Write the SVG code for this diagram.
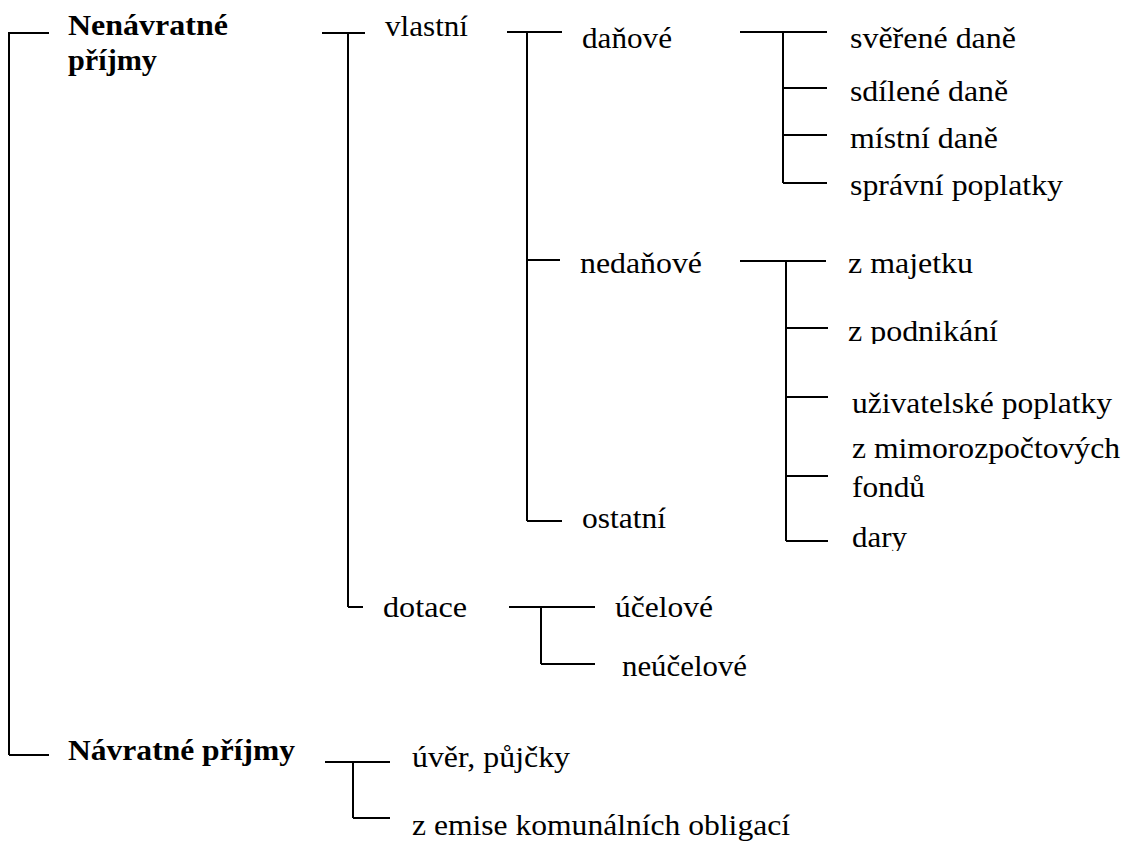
<svg xmlns="http://www.w3.org/2000/svg" width="1127" height="843" viewBox="0 0 1127 843">
  <style>
    text { font-family: 'Liberation Serif', 'Times New Roman', serif; font-size: 30px; fill: #000; }
    .b { font-weight: bold; }
    .c line { stroke: #000; stroke-width: 2; fill: none; }
  </style>
  <defs>
    <clipPath id="clipPrijmy"><rect x="0" y="0" width="300" height="80"/></clipPath>
    <clipPath id="clipSpravni"><rect x="800" y="150" width="327" height="53"/></clipPath>
    <clipPath id="clipPodnikani"><rect x="800" y="300" width="327" height="44"/></clipPath>
    <clipPath id="clipDary"><rect x="800" y="515" width="327" height="36"/></clipPath>
  </defs>
  <rect width="1127" height="843" fill="#fff"/>

  <g id="connectors" class="c">
    <line x1="8" y1="33" x2="49" y2="33"/>
    <line x1="9" y1="33" x2="9" y2="755"/>
    <line x1="9" y1="755" x2="49" y2="755"/>
    <line x1="322" y1="33" x2="365" y2="33"/>
    <line x1="348" y1="33" x2="348" y2="607"/>
    <line x1="348" y1="607" x2="363" y2="607"/>
    <line x1="507" y1="32" x2="562" y2="32"/>
    <line x1="527" y1="32" x2="527" y2="521"/>
    <line x1="527" y1="260" x2="560" y2="260"/>
    <line x1="527" y1="521" x2="562" y2="521"/>
    <line x1="740" y1="32" x2="827" y2="32"/>
    <line x1="783" y1="32" x2="783" y2="183"/>
    <line x1="783" y1="88" x2="827" y2="88"/>
    <line x1="783" y1="135" x2="827" y2="135"/>
    <line x1="783" y1="183" x2="827" y2="183"/>
    <line x1="740" y1="261" x2="826" y2="261"/>
    <line x1="786" y1="261" x2="786" y2="541"/>
    <line x1="786" y1="328" x2="828" y2="328"/>
    <line x1="786" y1="397" x2="828" y2="397"/>
    <line x1="786" y1="476" x2="828" y2="476"/>
    <line x1="786" y1="541" x2="828" y2="541"/>
    <line x1="509" y1="607" x2="595" y2="607"/>
    <line x1="541" y1="607" x2="541" y2="664"/>
    <line x1="541" y1="664" x2="595" y2="664"/>
    <line x1="325" y1="762" x2="390" y2="762"/>
    <line x1="353" y1="762" x2="353" y2="818"/>
    <line x1="353" y1="818" x2="390" y2="818"/>
  </g>

  <g id="node-nenavratne">
    <text class="b" x="68" y="35" textLength="160" lengthAdjust="spacingAndGlyphs">Nenávratné</text>
    <text class="b" x="68" y="70" textLength="89" lengthAdjust="spacingAndGlyphs" clip-path="url(#clipPrijmy)">příjmy</text>
  </g>
  <g id="node-navratne">
    <text class="b" x="68" y="760" textLength="227" lengthAdjust="spacingAndGlyphs">Návratné příjmy</text>
  </g>
  <g id="node-vlastni"><text x="385" y="36" textLength="83" lengthAdjust="spacingAndGlyphs">vlastní</text></g>
  <g id="node-danove"><text x="582" y="48" textLength="90" lengthAdjust="spacingAndGlyphs">daňové</text></g>
  <g id="node-sverene"><text x="850" y="48" textLength="166" lengthAdjust="spacingAndGlyphs">svěřené daně</text></g>
  <g id="node-sdilene"><text x="850" y="101" textLength="158" lengthAdjust="spacingAndGlyphs">sdílené daně</text></g>
  <g id="node-mistni"><text x="850" y="148" textLength="148" lengthAdjust="spacingAndGlyphs">místní daně</text></g>
  <g id="node-spravni"><text x="850" y="195" textLength="213" lengthAdjust="spacingAndGlyphs" clip-path="url(#clipSpravni)">správní poplatky</text></g>
  <g id="node-nedanove"><text x="580" y="273" textLength="122" lengthAdjust="spacingAndGlyphs">nedaňové</text></g>
  <g id="node-majetek"><text x="848" y="273" textLength="125" lengthAdjust="spacingAndGlyphs">z majetku</text></g>
  <g id="node-podnikani"><text x="848" y="341" textLength="150" lengthAdjust="spacingAndGlyphs" clip-path="url(#clipPodnikani)">z podnikání</text></g>
  <g id="node-uzivatelske"><text x="852" y="413" textLength="260" lengthAdjust="spacingAndGlyphs">uživatelské poplatky</text></g>
  <g id="node-mimorozpoctove">
    <text x="852" y="458" textLength="268" lengthAdjust="spacingAndGlyphs">z mimorozpočtových</text>
    <text x="852" y="497" textLength="73" lengthAdjust="spacingAndGlyphs">fondů</text>
  </g>
  <g id="node-dary"><text x="852" y="547" textLength="55" lengthAdjust="spacingAndGlyphs" clip-path="url(#clipDary)">dary</text></g>
  <g id="node-ostatni"><text x="582" y="528" textLength="84" lengthAdjust="spacingAndGlyphs">ostatní</text></g>
  <g id="node-dotace"><text x="383" y="617" textLength="84" lengthAdjust="spacingAndGlyphs">dotace</text></g>
  <g id="node-ucelove"><text x="615" y="617" textLength="98" lengthAdjust="spacingAndGlyphs">účelové</text></g>
  <g id="node-neucelove"><text x="622" y="676" textLength="125" lengthAdjust="spacingAndGlyphs">neúčelové</text></g>
  <g id="node-uver"><text x="412" y="767" textLength="158" lengthAdjust="spacingAndGlyphs">úvěr, půjčky</text></g>
  <g id="node-emise"><text x="412" y="835" textLength="378" lengthAdjust="spacingAndGlyphs">z emise komunálních obligací</text></g>
</svg>
